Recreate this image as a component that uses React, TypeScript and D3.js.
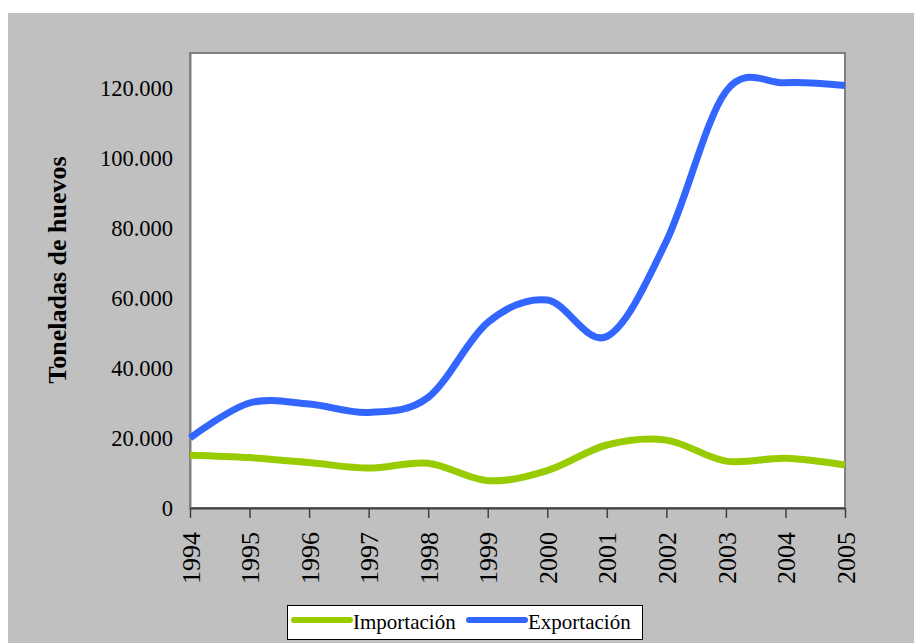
import React, { useEffect, useRef } from "react";
import * as d3 from "d3";

const years = [1994, 1995, 1996, 1997, 1998, 1999, 2000, 2001, 2002, 2003, 2004, 2005];
const importacion = [15100, 14400, 13000, 11400, 12800, 7800, 10700, 18000, 19400, 13400, 14200, 12300];
const exportacion = [20000, 30000, 29700, 27300, 31600, 53000, 59400, 49000, 76200, 119000, 121500, 120700];
const yTicks = [0, 20000, 40000, 60000, 80000, 100000, 120000];
const seriesNames = ["Importación", "Exportación"];
const seriesColors = ["#99CC00", "#3366FF"];

const serif = "Liberation Serif, Times New Roman, Times, serif";

export default function App() {
  const ref = useRef<SVGSVGElement>(null);

  useEffect(() => {
    const width = 914;
    const height = 643;
    const marginLeft = 190;
    const marginRight = 69;
    const marginTop = 53;
    const plotBottom = 508;

    const svg = d3.select(ref.current);
    svg.selectAll("*").remove();

    // grey chart area
    svg
      .append("rect")
      .attr("x", 8)
      .attr("y", 13)
      .attr("width", width - 8)
      .attr("height", height - 13)
      .attr("fill", "#C0C0C0");

    const x = d3
      .scalePoint<number>()
      .domain(years)
      .range([marginLeft, width - marginRight]);
    const y = d3.scaleLinear([0, 130000], [plotBottom, marginTop]);

    const locale = d3.formatLocale({
      decimal: ",",
      thousands: ".",
      grouping: [3],
      currency: ["", ""],
    });
    const fmt = locale.format(",");

    // plot area
    svg
      .append("rect")
      .attr("x", marginLeft)
      .attr("y", marginTop)
      .attr("width", width - marginRight - marginLeft)
      .attr("height", plotBottom - marginTop)
      .attr("fill", "#fff")
      .attr("stroke", "#808080")
      .attr("stroke-width", 2);

    // y axis
    const yAxis = svg
      .append("g")
      .attr("transform", `translate(${marginLeft},0)`)
      .call(d3.axisLeft(y).tickValues(yTicks).tickFormat((d) => fmt(d as number)).tickSize(0).tickPadding(17))
      .call((g) => g.select(".domain").attr("stroke", "#808080").attr("stroke-width", 2))
      .attr("font-family", null)
      .attr("font-size", null);
    yAxis
      .selectAll("text")
      .style("font-family", serif)
      .style("font-size", "22.5px")
      .attr("fill", "#000");

    // x axis
    const xAxis = svg
      .append("g")
      .attr("transform", `translate(0,${plotBottom})`)
      .call(d3.axisBottom(x).tickSize(10).tickSizeOuter(0))
      .call((g) => g.select(".domain").attr("stroke", "#404040").attr("stroke-width", 2))
      .call((g) => g.selectAll(".tick line").attr("stroke", "#404040").attr("stroke-width", 1.5))
      .attr("font-family", null)
      .attr("font-size", null);
    xAxis
      .selectAll("text")
      .style("font-family", serif)
      .style("font-size", "26px")
      .attr("fill", "#000")
      .attr("text-anchor", "end")
      .attr("transform", "rotate(-90)")
      .attr("x", -24)
      .attr("y", 0)
      .attr("dy", "0.35em");

    // y title
    svg
      .append("text")
      .attr("transform", `translate(57,270) rotate(-90)`)
      .attr("text-anchor", "middle")
      .attr("dy", "0.35em")
      .style("font-family", serif)
      .style("font-weight", "bold")
      .style("font-size", "26px")
      .text("Toneladas de huevos");

    // lines
    const line = d3
      .line<number>()
      .x((_, i) => x(years[i]) as number)
      .y((d) => y(d))
      .curve(d3.curveCardinal.tension(0));

    [importacion, exportacion].forEach((data, i) => {
      svg
        .append("path")
        .attr("fill", "none")
        .attr("stroke", seriesColors[i])
        .attr("stroke-width", 7)
        .attr("d", line(data));
    });

    // legend
    const legend = svg.append("g");
    legend
      .append("rect")
      .attr("x", 287.5)
      .attr("y", 605.5)
      .attr("width", 355)
      .attr("height", 34)
      .attr("fill", "#fff")
      .attr("stroke", "#000")
      .attr("stroke-width", 1);
    const legendX = [292, 467];
    seriesNames.forEach((name, i) => {
      legend
        .append("line")
        .attr("x1", legendX[i] + 2)
        .attr("x2", legendX[i] + 58)
        .attr("y1", 620)
        .attr("y2", 620)
        .attr("stroke", seriesColors[i])
        .attr("stroke-width", 6)
        .attr("stroke-linecap", "round");
      legend
        .append("text")
        .attr("x", legendX[i] + 61)
        .attr("y", 629)
        .style("font-family", serif)
        .style("font-size", "21px")
        .text(name);
    });
  }, []);

  return (
    <svg
      ref={ref}
      width={914}
      height={643}
      style={{ position: "absolute", left: 0, top: 0, fontFamily: serif }}
    />
  );
}
